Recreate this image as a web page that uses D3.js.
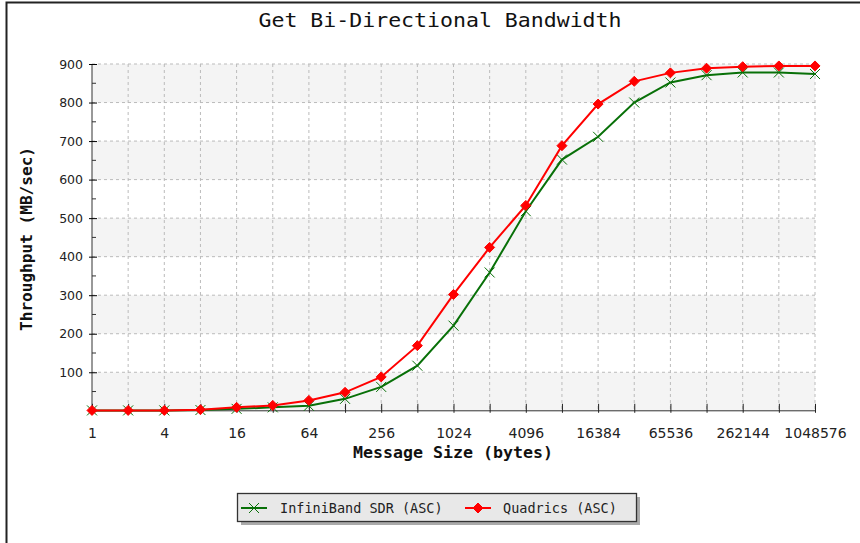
<!DOCTYPE html>
<html>
<head>
<meta charset="utf-8">
<script src="https://cdn.jsdelivr.net/npm/d3@7"></script>
<style>
  body { margin: 0; background: #fff; }
  svg { display: block; }
</style>
</head>
<body>
<div id="chart"></div>
<script>
// message sizes, 2^0 .. 2^20
var sizes = [1, 2, 4, 8, 16, 32, 64, 128, 256, 512, 1024, 2048, 4096, 8192,
    16384, 32768, 65536, 131072, 262144, 524288, 1048576];

var infinibandValues = [1, 1, 1, 2, 5, 9, 13, 31, 62, 117, 221, 359, 518, 652,
    711, 800, 852, 871, 878, 878, 874];
var quadricsValues = [1, 1, 1, 3, 9, 14, 27, 48, 88, 169, 302, 424, 533, 688,
    796, 855, 877, 889, 893, 895, 895];

var xTickLabels = [1, 4, 16, 64, 256, 1024, 4096, 16384, 65536, 262144, 1048576];
var yTickValues = [100, 200, 300, 400, 500, 600, 700, 800, 900];

var width = 860, height = 543;
var margin = { top: 64, right: 45, bottom: 133, left: 92 };
var plotW = 815 - margin.left,
    plotH = 410.8 - margin.top;

var svg = d3.select("#chart").append("svg")
    .attr("width", width)
    .attr("height", height);

// outer frame (only left/top edges visible)
svg.append("rect")
    .attr("x", 6.5).attr("y", 2.5)
    .attr("width", width + 20).attr("height", height + 20)
    .attr("fill", "none").attr("stroke", "#222").attr("stroke-width", 2);

svg.append("text")
    .attr("x", 440).attr("y", 27)
    .attr("text-anchor", "middle")
    .attr("font-family", "DejaVu Sans Mono")
    .attr("font-size", 19)
    .attr("textLength", 363)
    .attr("lengthAdjust", "spacingAndGlyphs")
    .attr("fill", "#111")
    .text("Get Bi-Directional Bandwidth");

var g = svg.append("g")
    .attr("transform", "translate(" + margin.left + "," + margin.top + ")");

var x = d3.scaleLog().base(2)
    .domain([1, 1048576])
    .range([0, plotW]);

var y = d3.scaleLinear()
    .domain([0, 900])
    .range([plotH, 0]);

// alternating bands
var bands = d3.range(0, 900, 100);
g.selectAll(".band")
    .data(bands)
    .enter()
    .append("rect")
    .attr("x", 0)
    .attr("y", function (d) { return y(d + 100); })
    .attr("width", plotW)
    .attr("height", function (d) { return y(d) - y(d + 100); })
    .attr("fill", function (d) { return (d / 100) % 2 === 0 ? "#f4f4f4" : "#ffffff"; });

// grid lines
g.selectAll(".hgrid")
    .data(yTickValues)
    .enter()
    .append("line")
    .attr("x1", 0).attr("x2", plotW)
    .attr("y1", function (d) { return y(d); })
    .attr("y2", function (d) { return y(d); })
    .attr("stroke", "#bbb")
    .attr("stroke-dasharray", "3,3");

g.selectAll(".vgrid")
    .data(sizes.slice(1))
    .enter()
    .append("line")
    .attr("x1", function (d) { return x(d); })
    .attr("x2", function (d) { return x(d); })
    .attr("y1", 0).attr("y2", plotH)
    .attr("stroke", "#bbb")
    .attr("stroke-dasharray", "3,3");

// y axis
var yAxis = g.append("g")
    .call(d3.axisLeft(y).tickValues(yTickValues).tickSize(3).tickPadding(6));
yAxis.selectAll(".tick line").attr("x2", 5).attr("x1", -3);
yAxis.select(".domain").attr("d", "M0," + plotH + "V0").attr("stroke", "#333");
yAxis.selectAll("text")
    .attr("font-family", "DejaVu Sans")
    .attr("font-size", 12.5)
    .attr("fill", "#222");

// minor y ticks
g.selectAll(".minor")
    .data(d3.range(50, 900, 100))
    .enter()
    .append("line")
    .attr("x1", 0).attr("x2", 4)
    .attr("y1", function (d) { return y(d); })
    .attr("y2", function (d) { return y(d); })
    .attr("stroke", "#333");

// x axis
var xAxis = g.append("g")
    .attr("transform", "translate(0," + plotH + ")")
    .call(d3.axisBottom(x).tickValues(sizes).tickSize(2).tickPadding(15)
        .tickFormat(function (d) { return xTickLabels.indexOf(d) >= 0 ? d : ""; }));
xAxis.selectAll(".tick line").attr("y1", -7).attr("y2", 2).attr("stroke", "#222");
xAxis.select(".domain").attr("d", "M0,0H" + plotW).attr("stroke", "#333");
xAxis.selectAll("text")
    .attr("font-family", "DejaVu Sans")
    .attr("font-size", 14)
    .attr("fill", "#222");

// axis titles
svg.append("text")
    .attr("x", 453).attr("y", 458)
    .attr("text-anchor", "middle")
    .attr("font-family", "DejaVu Sans Mono")
    .attr("font-weight", "bold")
    .attr("font-size", 15)
    .attr("textLength", 200)
    .attr("lengthAdjust", "spacingAndGlyphs")
    .attr("fill", "#111")
    .text("Message Size (bytes)");

svg.append("text")
    .attr("transform", "translate(32,239) rotate(-90)")
    .attr("text-anchor", "middle")
    .attr("font-family", "DejaVu Sans Mono")
    .attr("font-weight", "bold")
    .attr("font-size", 15)
    .attr("textLength", 184)
    .attr("lengthAdjust", "spacingAndGlyphs")
    .attr("fill", "#111")
    .text("Throughput (MB/sec)");

var green = "#087008", red = "#ff0000";

var line = d3.line()
    .x(function (d, i) { return x(sizes[i]); })
    .y(function (d) { return y(d); });

var crossPath = "M-5,-5L5,5M-5,5L5,-5";
var diamondPath = "M0,-5L5,0L0,5L-5,0Z";

function drawSeries(values, color, marker) {
    g.append("path")
        .datum(values)
        .attr("fill", "none")
        .attr("stroke", color)
        .attr("stroke-width", 2)
        .attr("d", line);
    g.selectAll(null)
        .data(values)
        .enter()
        .append("path")
        .attr("transform", function (d, i) {
            return "translate(" + x(sizes[i]) + "," + y(d) + ")";
        })
        .attr("d", marker)
        .attr("fill", marker === crossPath ? "none" : color)
        .attr("stroke", color)
        .attr("stroke-width", 1);
}

drawSeries(infinibandValues, green, crossPath);
drawSeries(quadricsValues, red, diamondPath);

// legend
var legend = svg.append("g").attr("transform", "translate(237,493)");
legend.append("rect")
    .attr("x", 4).attr("y", 4).attr("width", 399).attr("height", 28)
    .attr("fill", "#aaa");
legend.append("rect")
    .attr("x", 0.5).attr("y", 0.5).attr("width", 399).attr("height", 28)
    .attr("fill", "#e8e8e8").attr("stroke", "#333").attr("stroke-width", 1.3);

var legendItems = [
    { name: "InfiniBand SDR (ASC)", color: green, marker: crossPath, x: 4, tx: 43 },
    { name: "Quadrics (ASC)", color: red, marker: diamondPath, x: 228, tx: 266 }
];
legendItems.forEach(function (item) {
    legend.append("line")
        .attr("x1", item.x).attr("x2", item.x + 26)
        .attr("y1", 15).attr("y2", 15)
        .attr("stroke", item.color).attr("stroke-width", 2);
    legend.append("path")
        .attr("transform", "translate(" + (item.x + 13) + ",15)")
        .attr("d", item.marker)
        .attr("fill", item.marker === crossPath ? "none" : item.color)
        .attr("stroke", item.color);
    legend.append("text")
        .attr("x", item.tx).attr("y", 20)
        .attr("font-family", "DejaVu Sans Mono")
        .attr("font-size", 13.5)
        .attr("fill", "#222")
        .text(item.name);
});
</script>
</body>
</html>
